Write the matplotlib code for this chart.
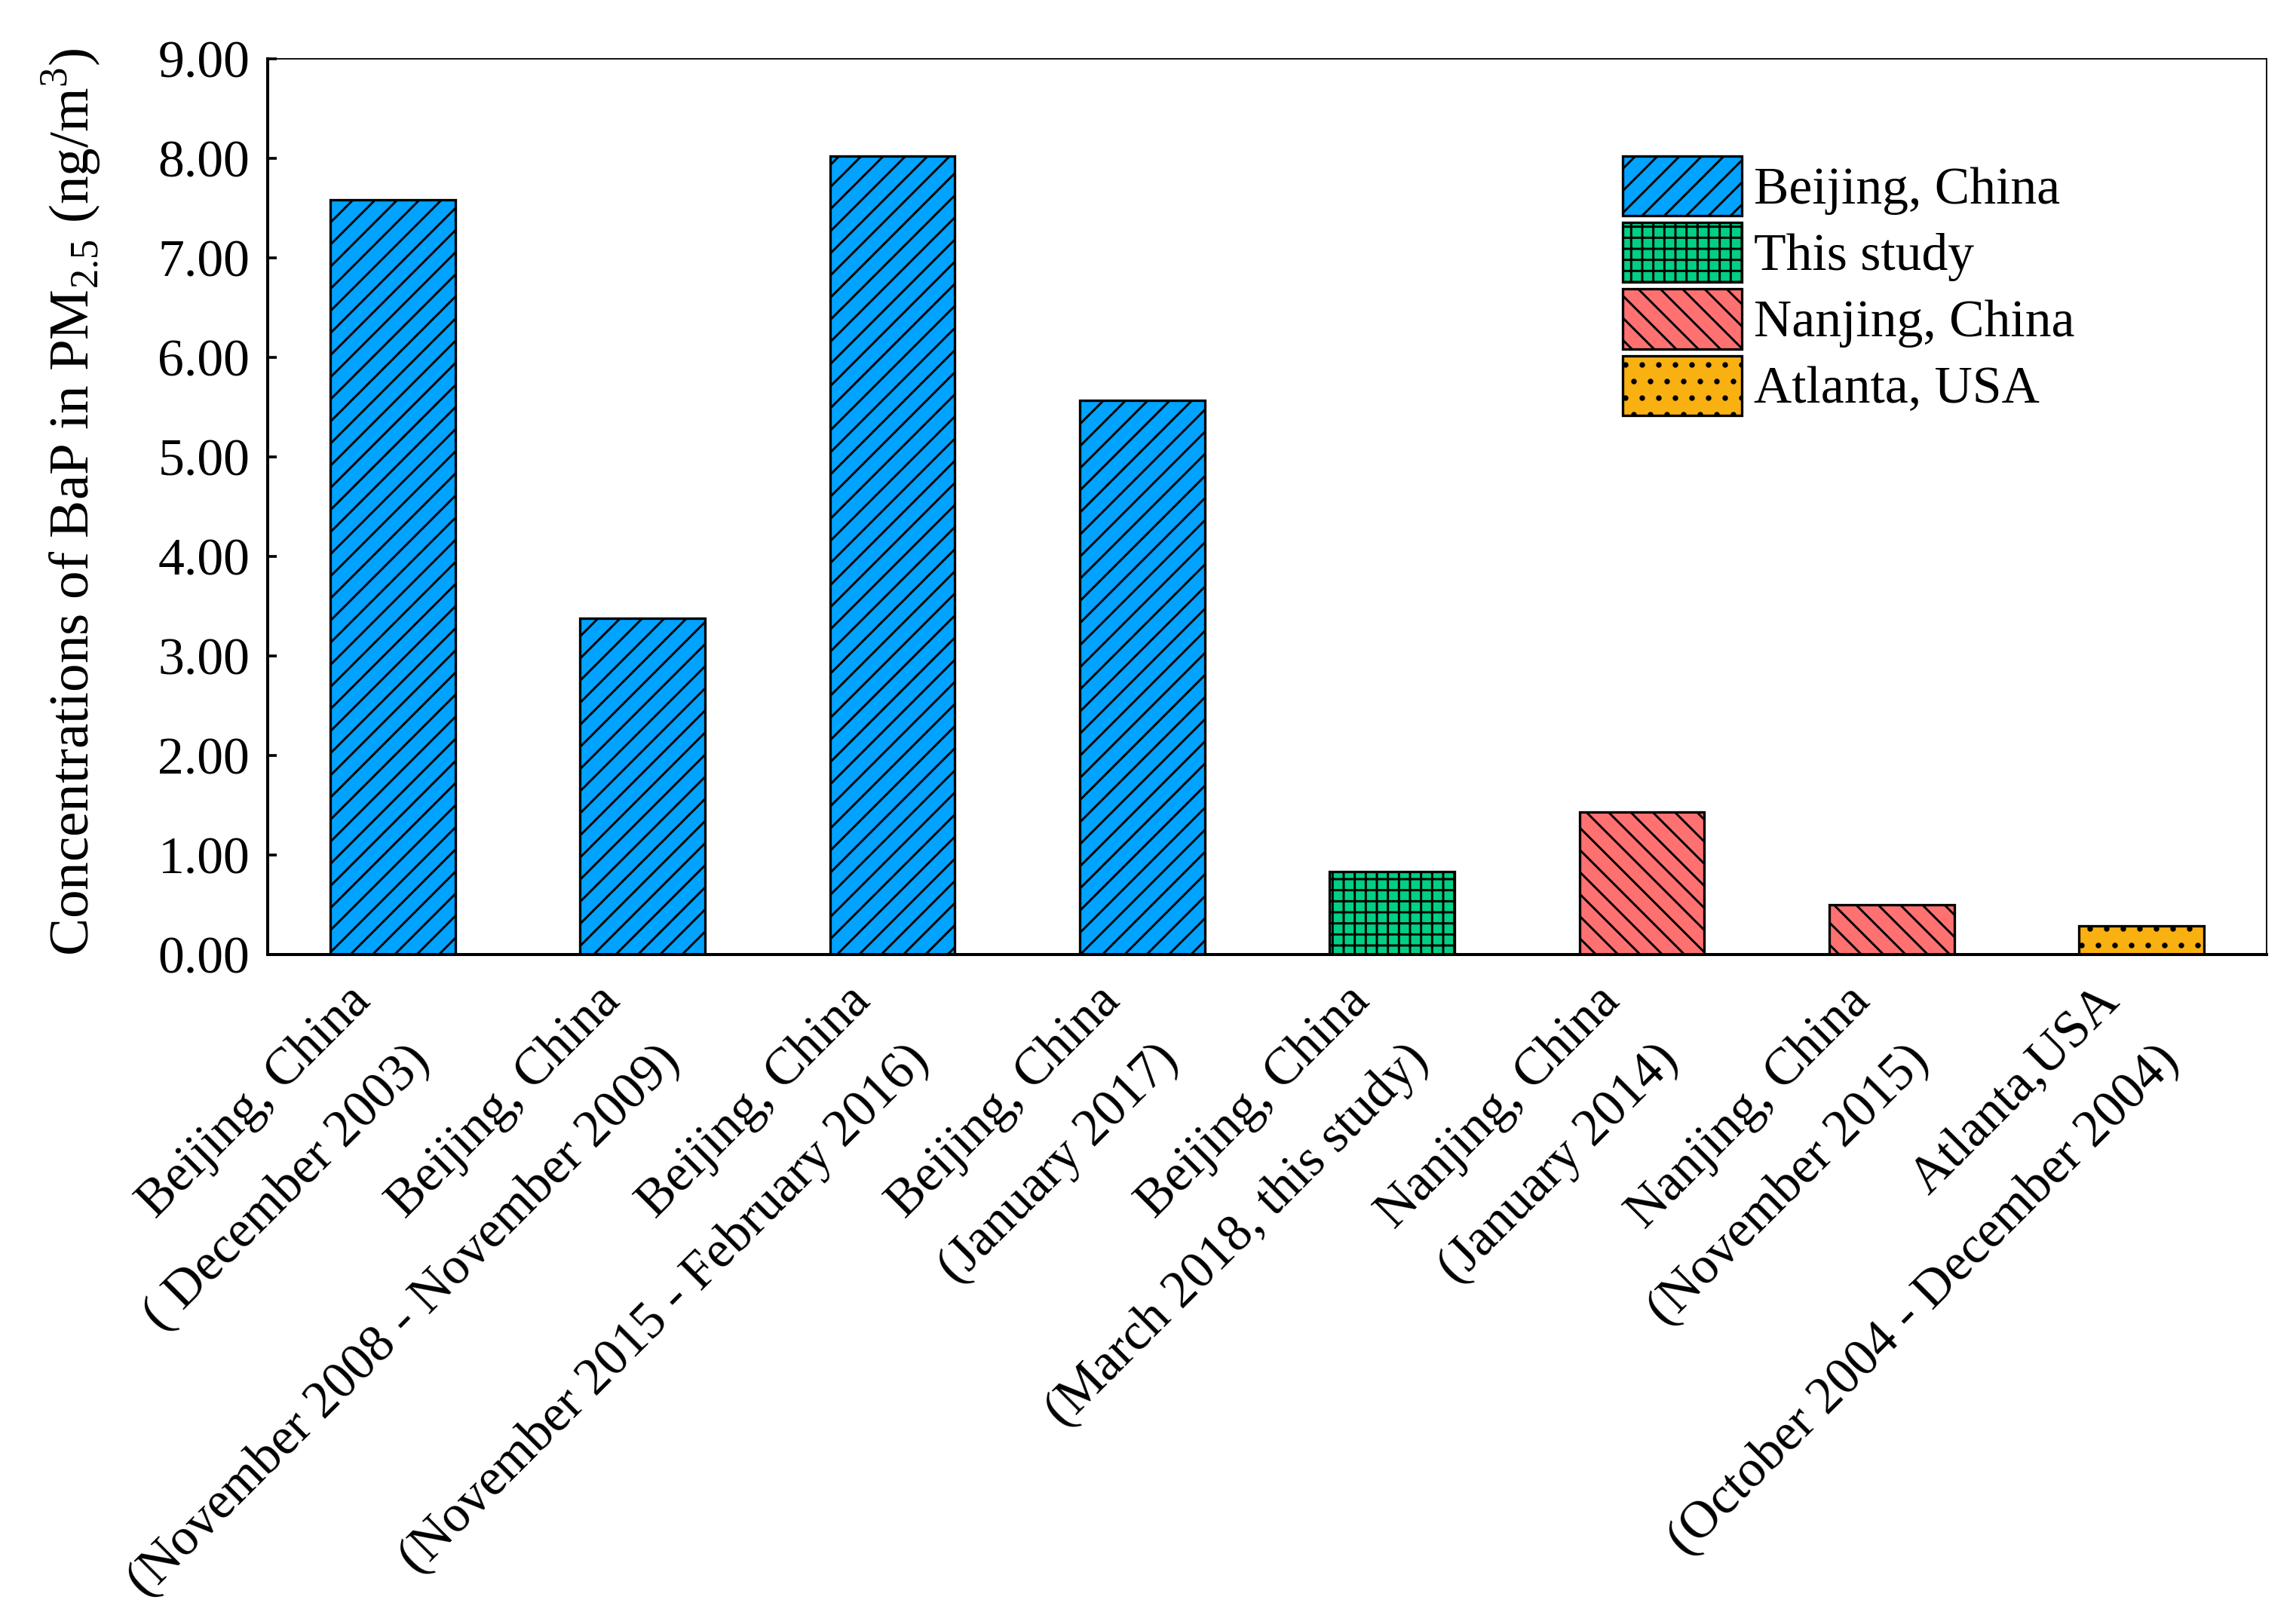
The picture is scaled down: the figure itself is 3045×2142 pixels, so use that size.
import numpy as np
import matplotlib
matplotlib.use('Agg')
import matplotlib.pyplot as plt

# 各サイト・期間のBaP濃度 (ng/m3)
places = ['Beijing, China', 'Beijing, China', 'Beijing, China', 'Beijing, China',
          'Beijing, China', 'Nanjing, China', 'Nanjing, China', 'Atlanta,USA']
periods = ['( December 2003)', '(November 2008 - November 2009)',
           '(November 2015 - February 2016)', '(January 2017)',
           '(March 2018, this study)', '(January 2014)', '(November 2015)',
           '(October 2004 - December 2004)']
bap_values = [7.58, 3.38, 8.02, 5.57, 0.83, 1.43, 0.50, 0.29]
groups = ['Beijing, China', 'Beijing, China', 'Beijing, China', 'Beijing, China',
          'This study', 'Nanjing, China', 'Nanjing, China', 'Atlanta, USA']

legend_names = ['Beijing, China', 'This study', 'Nanjing, China', 'Atlanta, USA']
group_colors = {'Beijing, China': '#00A3FF', 'This study': '#00D084',
                'Nanjing, China': '#FF7171', 'Atlanta, USA': '#F9B011'}
group_hatches = {'Beijing, China': '///', 'This study': '+++',
                 'Nanjing, China': '\\\\\\', 'Atlanta, USA': '..'}
y_ticks = [0, 1, 2, 3, 4, 5, 6, 7, 8, 9]


def main():
    plt.rcParams['font.family'] = ['Liberation Serif', 'DejaVu Serif']
    plt.rcParams['mathtext.fontset'] = 'custom'
    plt.rcParams['mathtext.rm'] = 'Liberation Serif'
    plt.rcParams['hatch.linewidth'] = 0.8
    plt.rcParams['hatch.color'] = 'black'

    dpi = 264
    fig = plt.figure(figsize=(3045 / dpi, 2142 / dpi), dpi=dpi)
    ax = fig.add_axes([0.1166, 0.409, 0.8706, 0.5546])

    x = np.arange(len(bap_values))

    # グループごとに棒を描く
    for name in legend_names:
        idx = [i for i, g in enumerate(groups) if g == name]
        ax.bar(x[idx], [bap_values[i] for i in idx], width=0.5,
               color=group_colors[name], edgecolor='black', linewidth=0.9,
               hatch=group_hatches[name], label=name, zorder=2)

    ax.set_xlim(-0.5, len(bap_values) - 0.5)
    ax.set_ylim(0, 9)
    ax.set_yticks(y_ticks)
    ax.set_yticklabels(['%.2f' % v for v in y_ticks])

    ax.set_xticks(x)
    tick_labels = [p + '\n' + q for p, q in zip(places, periods)]
    ax.set_xticklabels(tick_labels, rotation=45, ha='right', va='center',
                       rotation_mode='anchor', multialignment='right',
                       linespacing=1.95)

    ax.tick_params(axis='y', direction='in', length=3.3, width=1.0,
                   labelsize=19, pad=6.5)
    ax.tick_params(axis='x', direction='in', length=4.5, width=1.0,
                   labelsize=19, pad=25)

    for side in ['left', 'bottom']:
        ax.spines[side].set_linewidth(1.1)
    for side in ['top', 'right']:
        ax.spines[side].set_linewidth(0.5)

    ax.set_ylabel('Concentrations of BaP in PM$_{\\mathregular{2.5}}$ (ng/m$^{\\mathregular{3}}$)',
                  fontsize=20.5)
    ax.yaxis.set_label_coords(-0.0825, 0.505)

    fig.legend(loc='upper left', bbox_to_anchor=(0.7067, 0.9033),
               frameon=False, fontsize=19, borderpad=0, borderaxespad=0,
               handlelength=2.27, handleheight=1.37, labelspacing=0.13,
               handletextpad=0.23)

    fig.savefig('out.png', dpi=dpi)


if __name__ == "__main__":
    main()
